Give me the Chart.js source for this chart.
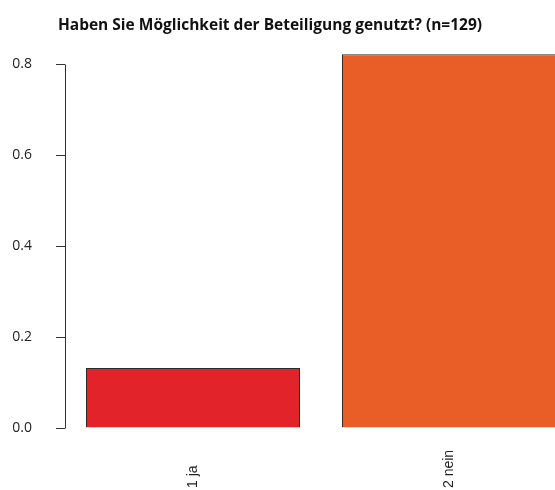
<!DOCTYPE html>
<html><head><meta charset="utf-8">
<script src="https://cdn.jsdelivr.net/npm/chart.js@4/dist/chart.umd.min.js"></script>
<style>
html,body{margin:0;padding:0;background:#fff;overflow:hidden;width:555px;height:490px;}
#wrap{width:577px;height:490px;position:relative;}
</style></head><body>
<div id="wrap"><canvas id="c"></canvas></div>
<script>
const categories = ['1 ja', '2 nein'];
const shares = [0.132, 0.822];
const barColors = ['#E2242A', '#E95E27'];
const yTicks = [0, 0.2, 0.4, 0.6, 0.8];
const titleText = 'Haben Sie Möglichkeit der Beteiligung genutzt? (n=129)';

const rAxisPlugin = {
  id: 'rAxis',
  afterLayout(chart) {
    const t = chart.titleBlock;
    if (t) { t.left = 0; t.right = 540; t.width = 540; }
  },
  afterDraw(chart) {
    const ctx = chart.ctx, ys = chart.scales.y, xs = chart.scales.x;
    const ax = Math.round(chart.chartArea.left) + 0.5;
    ctx.save();
    ctx.strokeStyle = '#333';
    ctx.lineWidth = 1;
    ctx.beginPath();
    ctx.moveTo(ax, Math.round(ys.getPixelForValue(yTicks[yTicks.length - 1])) + 0.5);
    ctx.lineTo(ax, Math.round(ys.getPixelForValue(yTicks[0])) + 0.5);
    ctx.stroke();
    ctx.font = '14px "Liberation Sans", Arial, sans-serif';
    ctx.fillStyle = '#222';
    ctx.textAlign = 'left';
    ctx.textBaseline = 'middle';
    categories.forEach((c, i) => {
      const px = xs.getPixelForValue(i);
      ctx.save();
      ctx.translate(px, chart.height - 2);
      ctx.rotate(-Math.PI / 2);
      ctx.fillText(c, 0, 0);
      ctx.restore();
    });
    ctx.restore();
  }
};

new Chart(document.getElementById('c'), {
  type: 'bar',
  data: {
    labels: categories,
    datasets: [{
      data: shares,
      backgroundColor: barColors,
      borderColor: '#2b2b2b',
      borderWidth: 1,
      categoryPercentage: 1,
      barPercentage: 0.836
    }]
  },
  options: {
    responsive: true,
    maintainAspectRatio: false,
    animation: false,
    devicePixelRatio: 1,
    layout: { padding: 0 },
    plugins: {
      legend: { display: false },
      tooltip: { enabled: false },
      title: {
        display: true,
        text: titleText,
        color: '#111',
        font: { family: '"Open Sans", sans-serif', size: 15.5, weight: 'bold', lineHeight: 18 / 15.5 },
        padding: { top: 17, bottom: 11 }
      }
    },
    scales: {
      x: {
        type: 'category',
        offset: true,
        grid: { display: false },
        border: { display: false },
        ticks: { display: false },
        afterFit(s) { s.height = 62; }
      },
      y: {
        min: 0,
        max: 0.84,
        afterBuildTicks(s) { s.ticks = yTicks.map(v => ({ value: v })); },
        ticks: {
          callback: v => Number(v).toFixed(1),
          font: { family: '"Open Sans", sans-serif', size: 14 },
          color: '#222',
          padding: 24
        },
        grid: { drawOnChartArea: false, drawTicks: true, tickLength: 9, color: '#333' },
        border: { display: false },
        afterFit(s) { s.width = 65; }
      }
    }
  },
  plugins: [rAxisPlugin]
});
</script>
</body></html>
